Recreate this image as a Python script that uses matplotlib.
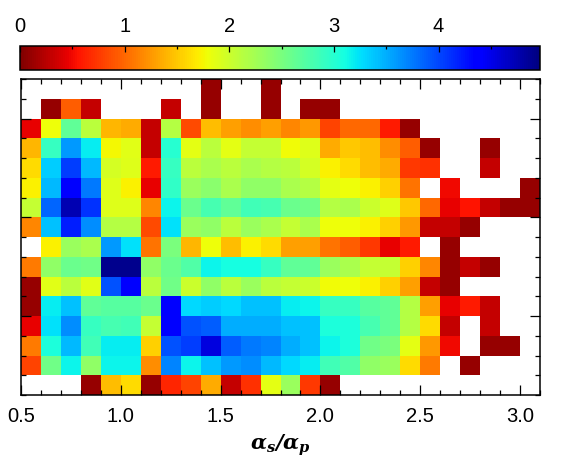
import numpy as np
import matplotlib
matplotlib.use('Agg')
import matplotlib.pyplot as plt
from matplotlib.ticker import MultipleLocator, FixedLocator

plt.rcParams['font.family'] = ['Liberation Sans', 'DejaVu Sans']
plt.rcParams['mathtext.fontset'] = 'dejavuserif'

n = np.nan
# rows listed top to bottom, columns run from 0.5 to 3.1 in steps of 0.1
row00 = [n, n, n, n, n, n, n, n, n, .1, n, n, .1, n, n, n, n, n, n, n, n, n, n, n, n, n]
row01 = [n, .1, .95, .3, n, n, n, .3, n, .1, n, n, .1, n, .1, .1, n, n, n, n, n, n, n, n, n, n]
row02 = [.45, 1.8, 2.65, 2.1, 1.4, 1.35, .3, 2.15, .85, 1.45, 1.3, 1.2, 1.3, 1.15, 1.25, .8, 1.0, 1.0, .6, .1, n, n, n, n, n, n]
row03 = [1.4, 2.9, 3.6, 3.2, 1.75, 1.88, .3, 3.0, 1.85, 2.1, 1.85, 2.05, 2.05, 1.78, 1.9, 1.35, 1.5, 1.45, 1.2, .95, .1, n, n, .1, n, n]
row04 = [1.6, 3.35, 4.05, 3.45, 1.95, 1.9, .6, 2.9, 2.1, 2.2, 2.1, 2.2, 2.15, 2.1, 1.95, 1.72, 1.6, 1.45, 1.35, .75, .7, n, n, .3, n, n]
row05 = [1.72, 3.45, 4.4, 3.75, 1.9, 1.72, .45, 2.95, 2.3, 2.4, 2.2, 2.35, 2.35, 2.2, 2.15, 1.85, 1.8, 1.72, 1.55, 1.05, n, .5, n, n, n, .1]
row06 = [2.05, 3.85, 4.75, 4.1, 1.9, 1.9, 1.15, 3.15, 2.6, 2.8, 2.65, 2.85, 2.8, 2.6, 2.55, 2.15, 2.2, 2.0, 1.9, 1.5, 1.0, .45, .55, .3, .1, .1]
row07 = [1.15, 3.4, 4.2, 3.65, 2.15, 2.15, .85, 3.25, 2.3, 2.35, 2.1, 2.3, 2.2, 2.05, 2.2, 1.8, 1.8, 1.72, 1.55, 1.25, .3, .3, .1, n, n, n]
row08 = [n, 1.72, 2.3, 2.2, 3.6, 3.25, 1.05, 2.5, 1.4, 1.8, 1.45, 1.72, 1.6, 1.3, 1.3, 1.05, .95, .75, .45, .6, n, .1, n, n, n, n]
row09 = [1.1, 2.35, 2.6, 2.55, 4.9, 4.9, 2.35, 2.6, 2.75, 3.15, 3.1, 3.1, 2.9, 2.65, 2.65, 2.3, 2.2, 2.05, 2.05, 1.55, 1.15, .1, .3, .1, n, n]
row10 = [.1, 1.88, 2.1, 1.88, 3.95, 4.35, 2.1, 2.55, 2.0, 2.35, 2.1, 2.3, 2.1, 2.05, 2.0, 1.78, 1.8, 1.72, 1.55, 1.3, .3, .1, n, n, n, n]
row11 = [.1, 3.2, 3.4, 2.65, 2.7, 2.7, 2.6, 4.35, 3.3, 3.35, 3.3, 3.4, 3.4, 3.2, 3.15, 2.9, 2.9, 2.7, 2.65, 2.15, 1.3, .45, .6, .3, n, n]
row12 = [.45, 3.25, 3.65, 2.9, 2.8, 2.85, 2.05, 4.35, 3.95, 3.9, 3.5, 3.5, 3.5, 3.4, 3.4, 3.05, 3.05, 2.8, 2.65, 2.15, 1.6, .3, n, .3, n, n]
row13 = [1.1, 3.05, 3.45, 2.85, 3.2, 3.2, 1.55, 3.95, 4.05, 4.55, 3.9, 3.75, 3.7, 3.5, 3.4, 3.15, 3.05, 2.55, 2.5, 1.85, 1.25, .5, n, .1, .1, n]
row14 = [.8, 2.55, 3.15, 2.35, 3.15, 3.15, 1.2, 3.7, 3.15, 3.4, 3.6, 3.65, 3.45, 3.3, 3.2, 2.85, 2.75, 2.35, 2.3, 1.6, 1.1, n, .1, n, n, n]
row15 = [n, n, n, .1, 1.45, 1.6, .1, .65, .8, 1.35, .3, .7, 1.85, 2.3, .75, .1, n, n, n, n, n, n, n, n, n, n]

rows = [row15, row14, row13, row12, row11, row10, row09, row08,
        row07, row06, row05, row04, row03, row02, row01, row00]
x_edges = np.arange(27) / 10 + 0.5
y_edges = np.arange(17)
vmax = 4.97

W, H = 564, 468
fig = plt.figure(figsize=(W / 100, H / 100), dpi=100)
ax = fig.add_axes([21 / W, 1 - 395 / H, 519 / W, 316 / H])
cax = fig.add_axes([20 / W, 1 - 70 / H, 520 / W, 24 / H])

cmap = plt.get_cmap('jet_r').copy()
cmap.set_bad('white')
mesh = ax.pcolormesh(x_edges, y_edges, np.ma.masked_invalid(np.array(rows)),
                     cmap=cmap, vmin=0, vmax=vmax)
ax.set_xlim(0.5, 3.1)
ax.set_ylim(0, 16)

# ticks all go inward, on every side, like the original
ax.xaxis.set_major_locator(MultipleLocator(0.5))
ax.xaxis.set_minor_locator(MultipleLocator(0.1))
ax.yaxis.set_major_locator(FixedLocator([4, 9, 14]))
ax.yaxis.set_minor_locator(MultipleLocator(1))
ax.tick_params(which='major', direction='in', top=True, right=True, length=7, width=0.9,
               labelleft=False, labelsize=14.5, pad=9)
ax.tick_params(which='minor', direction='in', top=True, right=True, length=3.5, width=0.9)
ax.xaxis.set_major_formatter(lambda v, pos: f'{v:.1f}')
ax.set_xlabel(r'$\mathbfit{\alpha_s/\alpha_p}$', fontsize=15, labelpad=4)
for s in ax.spines.values():
    s.set_linewidth(1.1)

cb = fig.colorbar(mesh, cax=cax, orientation='horizontal')
cb.set_ticks([0, 1, 2, 3, 4])
cb.ax.xaxis.set_minor_locator(MultipleLocator(0.5))
cax.xaxis.set_ticks_position('top')
cax.tick_params(which='major', direction='in', length=4, width=0.9, labelsize=14.5, pad=7)
cax.tick_params(which='minor', direction='in', length=2, width=0.9)
cb.outline.set_linewidth(1.1)

fig.savefig('out.png', dpi=100)
